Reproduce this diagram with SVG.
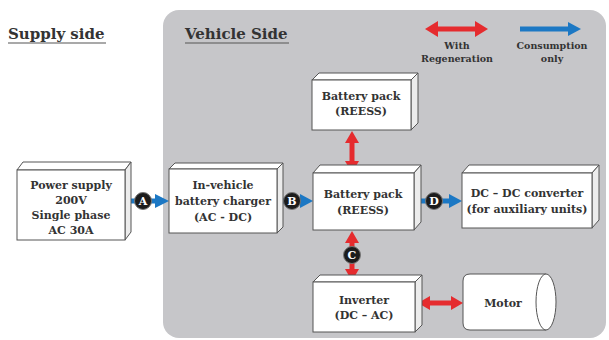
<svg xmlns="http://www.w3.org/2000/svg" width="609" height="340" viewBox="0 0 609 340">
<style>
.t{font-family:"DejaVu Serif","Liberation Serif",serif;font-weight:bold;fill:#333;text-anchor:middle}
.n{font-size:11px}
.h{font-size:15px;text-anchor:start}
.lg{font-size:9.5px}
.face{fill:#fff;stroke:#555;stroke-width:1}
.side{fill:#ececec;stroke:#555;stroke-width:1}
.blue{stroke:#1c78c4;stroke-width:5;fill:none}
.bh{fill:#1c78c4}
.red{stroke:#e52b2e;stroke-width:5;fill:none}
.rh{fill:#e52b2e}
.mk{fill:#1c1c1c;stroke:#777;stroke-width:1}
.ml{font-family:"DejaVu Serif","Liberation Serif",serif;font-weight:bold;font-size:11px;fill:#fff;text-anchor:middle}
</style>
<rect width="609" height="340" fill="#fff"/>
<rect x="163" y="10" width="443" height="328" rx="16" fill="#c6c6c9"/>
<g id="titles">
<text class="t h" x="8" y="39">Supply side</text>
<line x1="8" y1="43" x2="106" y2="43" stroke="#555" stroke-width="1.2"/>
<text class="t h" x="185" y="39">Vehicle Side</text>
<line x1="185" y1="43" x2="289" y2="43" stroke="#555" stroke-width="1.2"/>
</g>
<g id="legend">
<line class="red" x1="435" y1="29" x2="478" y2="29"/>
<polygon class="rh" points="425,29 438,21 438,37"/>
<polygon class="rh" points="488,29 475,21 475,37"/>
<text class="t lg" x="457" y="49">With</text>
<text class="t lg" x="457" y="62">Regeneration</text>
<line class="blue" x1="520" y1="29" x2="570" y2="29"/>
<polygon class="bh" points="581,29 568,22 568,36"/>
<text class="t lg" x="552" y="49">Consumption</text>
<text class="t lg" x="552" y="62">only</text>
</g>
<g id="connectors">
<line class="blue" x1="131" y1="201" x2="158" y2="201"/>
<polygon class="bh" points="169,201 155,194 155,208"/>
<circle class="mk" cx="143" cy="201" r="8.5"/>
<text class="ml" x="143" y="205">A</text>
<line class="blue" x1="283" y1="201" x2="303" y2="201"/>
<polygon class="bh" points="313,201 300,194 300,208"/>
<circle class="mk" cx="292" cy="201" r="8.5"/>
<text class="ml" x="292" y="205">B</text>
<line class="blue" x1="421" y1="201" x2="452" y2="201"/>
<polygon class="bh" points="462,201 449,194 449,208"/>
<circle class="mk" cx="434" cy="201" r="8.5"/>
<text class="ml" x="434" y="205">D</text>
<line class="red" x1="352" y1="140" x2="352" y2="164"/>
<polygon class="rh" points="352,131 345,143 359,143"/>
<polygon class="rh" points="352,173 345,161 359,161"/>
<line class="red" x1="352" y1="240" x2="352" y2="272"/>
<polygon class="rh" points="352,231 345,243 359,243"/>
<polygon class="rh" points="352,281 345,269 359,269"/>
<circle class="mk" cx="352" cy="255" r="8.5"/>
<text class="ml" x="352" y="259">C</text>
<line class="red" x1="428" y1="303" x2="453" y2="303"/>
<polygon class="rh" points="418,303 430,296 430,310"/>
<polygon class="rh" points="463,303 451,296 451,310"/>
</g>
<g id="power-supply">
<path class="face" d="M17,170 L23,162 L131,162 L125,170 Z"/>
<path class="side" d="M125,170 L131,162 L131,232 L125,240 Z"/>
<rect class="face" x="17" y="170" width="108" height="70"/>
<text class="t n" x="71" y="189">Power supply</text>
<text class="t n" x="71" y="204">200V</text>
<text class="t n" x="71" y="219">Single phase</text>
<text class="t n" x="71" y="234">AC 30A</text>
</g>
<g id="charger">
<path class="face" d="M169,169 L175,163 L283,163 L277,169 Z"/>
<path class="side" d="M277,169 L283,163 L283,227 L277,233 Z"/>
<rect class="face" x="169" y="169" width="108" height="64"/>
<text class="t n" x="223" y="189">In-vehicle</text>
<text class="t n" x="223" y="205">battery charger</text>
<text class="t n" x="223" y="221">(AC - DC)</text>
</g>
<g id="battery-top">
<path class="face" d="M312,80 L319,73 L418,73 L411,80 Z"/>
<path class="side" d="M411,80 L418,73 L418,123 L411,130 Z"/>
<rect class="face" x="312" y="80" width="99" height="50"/>
<text class="t n" x="361" y="100">Battery pack</text>
<text class="t n" x="361" y="115">(REESS)</text>
</g>
<g id="battery-main">
<path class="face" d="M313,173 L320,165 L421,165 L414,173 Z"/>
<path class="side" d="M414,173 L421,165 L421,222 L414,230 Z"/>
<rect class="face" x="313" y="173" width="101" height="57"/>
<text class="t n" x="363" y="198">Battery pack</text>
<text class="t n" x="363" y="214">(REESS)</text>
</g>
<g id="dcdc">
<path class="face" d="M462,173 L469,165 L599,165 L592,173 Z"/>
<path class="side" d="M592,173 L599,165 L599,220 L592,228 Z"/>
<rect class="face" x="462" y="173" width="130" height="55"/>
<text class="t n" x="527" y="197">DC – DC converter</text>
<text class="t n" x="527" y="213">(for auxiliary units)</text>
</g>
<g id="inverter">
<path class="face" d="M313,282 L320,275 L422,275 L415,282 Z"/>
<path class="side" d="M415,282 L422,275 L422,325 L415,332 Z"/>
<rect class="face" x="313" y="282" width="102" height="50"/>
<text class="t n" x="364" y="304">Inverter</text>
<text class="t n" x="364" y="319">(DC – AC)</text>
</g>
<g id="motor">
<path class="face" d="M470,274 L546,274 L546,330 L470,330 Q463,330 463,323 L463,281 Q463,274 470,274 Z"/>
<ellipse class="face" cx="546" cy="302" rx="10" ry="28"/>
<text class="t n" x="503" y="307">Motor</text>
</g>
</svg>
